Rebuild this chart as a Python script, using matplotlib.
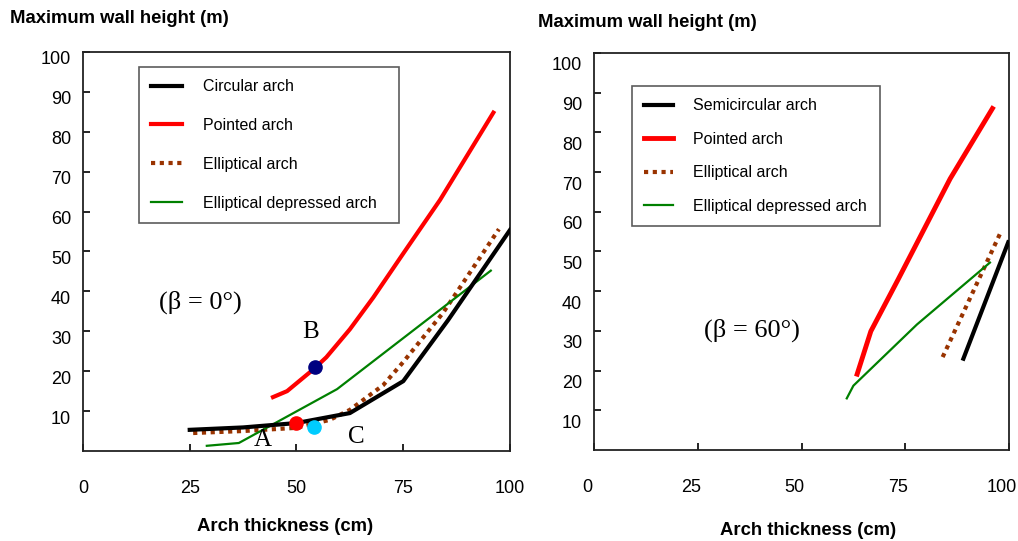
import matplotlib
matplotlib.use('Agg')
from matplotlib import pyplot as plt
from matplotlib import transforms
import numpy as np

plt.rcParams['font.family'] = ['Liberation Sans', 'DejaVu Sans']

# ---- data: left panel (beta = 0 deg) ----
circ_x = [25, 37.5, 50, 62.5, 75, 85.5, 100]
circ_y = [5.3, 5.9, 7.0, 9.5, 17.5, 32.8, 55.4]
point_x = [44.5, 47.8, 54, 57, 62.5, 68, 75, 83.6, 96.1]
point_y = [13.5, 15.0, 20.5, 23.5, 30.5, 38.5, 49.5, 62.9, 84.8]
ellip_x = [25.8, 37.5, 50, 57.8, 62.5, 70.3, 75, 84.3, 97.4]
ellip_y = [4.5, 5.0, 5.8, 7.8, 10.3, 16.5, 22.3, 34.6, 55.6]
depr_x = [29, 36.5, 59.5, 95.5]
depr_y = [1.3, 2.0, 15.5, 45.2]
# points A, B, C
ptA = (50, 7.1)
ptB = (54.3, 21.1)
ptC = (54.1, 6.1)

# ---- data: right panel (beta = 60 deg) ----
semi_x2 = [89, 99.8]
semi_y2 = [23.0, 52.3]
point_x2 = [63.4, 66.7, 73.3, 85.8, 96]
point_y2 = [19.1, 29.9, 43.0, 68.3, 86.0]
ellip_x2 = [84, 97.8]
ellip_y2 = [23.4, 54.4]
depr_x2 = [60.9, 62.5, 77.8, 95.4]
depr_y2 = [13.0, 16.2, 31.6, 47.2]

xticks = [0, 25, 50, 75, 100]
yticks = [10, 20, 30, 40, 50, 60, 70, 80, 90, 100]

brown = '#993300'

fig = plt.figure(figsize=(10.18, 5.41), dpi=100)
ax1 = fig.add_axes([0.0815, 0.1664, 0.4195, 0.7375])
ax2 = fig.add_axes([0.5835, 0.1682, 0.4077, 0.7340])


def style_axes(ax, ydown, xshift):
    ax.set_xlim(0, 100)
    ax.set_ylim(0, 100)
    ax.set_xticks(xticks)
    ax.set_yticks(yticks)
    ax.tick_params(direction='in', length=5, width=1.2, labelsize=13)
    ax.tick_params(axis='x', pad=21)
    ax.tick_params(axis='y', pad=8.5)
    for s in ax.spines.values():
        s.set_linewidth(1.3)
        s.set_color('#222222')
    off = transforms.ScaledTranslation(0, -ydown / 100, fig.dpi_scale_trans)
    for lab in ax.get_yticklabels():
        lab.set_transform(lab.get_transform() + off)
    offx = transforms.ScaledTranslation(-xshift / 100, 0, fig.dpi_scale_trans)
    for lab in ax.get_xticklabels():
        lab.set_transform(lab.get_transform() + offx)


# left panel
ax1.plot(circ_x, circ_y, color='black', lw=3, label='Circular arch', zorder=3)
ax1.plot(point_x, point_y, color='red', lw=3, label='Pointed arch', zorder=3)
ax1.plot(ellip_x, ellip_y, color=brown, lw=3, linestyle=(0, (1, 1.1)),
         dash_capstyle='butt', label='Elliptical arch', zorder=2)
ax1.plot(depr_x, depr_y, color='green', lw=1.6, label='Elliptical depressed arch', zorder=2)
ax1.plot(*ptA, 'o', color='red', ms=9.5, zorder=4)
ax1.plot(*ptC, 'o', color='#00CCFF', ms=9.5, zorder=4)
ax1.plot(*ptB, 'o', color='#000080', ms=9.5, zorder=4)
ax1.text(42, 2.75, 'A', family='Liberation Serif', fontsize=18, ha='center', va='center')
ax1.text(53.4, 29.7, 'B', family='Liberation Serif', fontsize=18, ha='center', va='center')
ax1.text(63.9, 3.6, 'C', family='Liberation Serif', fontsize=18, ha='center', va='center')
ax1.text(27.4, 37.3, '(β = 0°)', family='Liberation Serif', fontsize=19, ha='center', va='center')
leg1 = ax1.legend(loc='upper left', bbox_to_anchor=(0.131, 0.571, 0.609, 0.391),
                  mode='expand', fontsize=11.5, frameon=True, fancybox=False,
                  edgecolor='#333333', borderaxespad=0, borderpad=0.75,
                  labelspacing=1.5, handlelength=1.95, handletextpad=1.3)
leg1.get_frame().set_linewidth(1.2)
style_axes(ax1, 6, 0)

# right panel
ax2.plot(semi_x2, semi_y2, color='black', lw=3, label='Semicircular arch', zorder=3)
ax2.plot(point_x2, point_y2, color='red', lw=3.5, label='Pointed arch', zorder=3)
ax2.plot(ellip_x2, ellip_y2, color=brown, lw=3, linestyle=(0, (1, 1.1)),
         dash_capstyle='butt', label='Elliptical arch', zorder=2)
ax2.plot(depr_x2, depr_y2, color='green', lw=1.6, label='Elliptical depressed arch', zorder=2)
ax2.text(38.1, 30.1, '(β = 60°)', family='Liberation Serif', fontsize=19, ha='center', va='center')
leg2 = ax2.legend(loc='upper left', bbox_to_anchor=(0.0916, 0.574, 0.598, 0.342),
                  mode='expand', fontsize=11.5, frameon=True, fancybox=False,
                  edgecolor='#333333', borderaxespad=0, borderpad=0.75,
                  labelspacing=1.16, handlelength=1.8, handletextpad=1.25)
leg2.get_frame().set_linewidth(1.2)
style_axes(ax2, 11, 7)

# titles and axis labels
fig.text(0.0098, 0.9667, 'Maximum wall height (m)', fontsize=13.3, fontweight='bold', va='center')
fig.text(0.5285, 0.9575, 'Maximum wall height (m)', fontsize=13.3, fontweight='bold', va='center')
fig.text(0.2804, 0.0259, 'Arch thickness (cm)', fontsize=13.3, fontweight='bold', ha='center', va='center')
fig.text(0.7937, 0.0203, 'Arch thickness (cm)', fontsize=13.3, fontweight='bold', ha='center', va='center')

plt.savefig('out.png', dpi=100)
